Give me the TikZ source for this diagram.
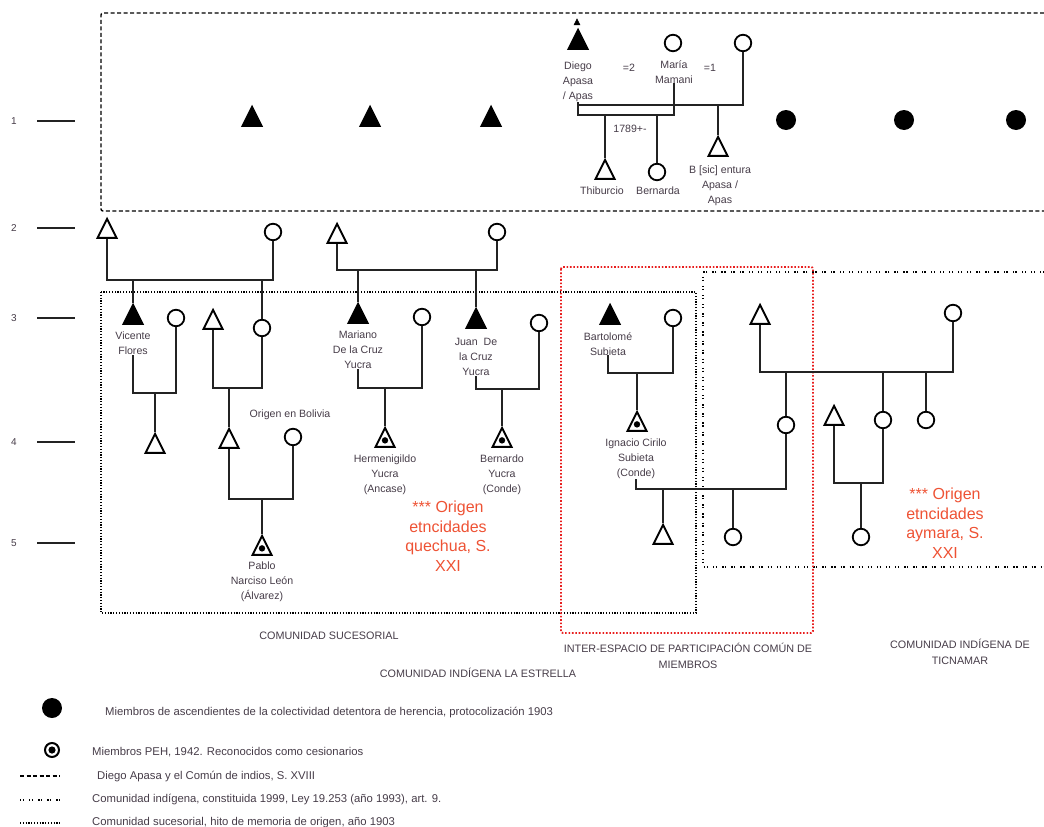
\documentclass[tikz,border=0pt]{standalone}
\usepackage{fontspec}
\setmainfont{Liberation Sans}
\usetikzlibrary{shapes.geometric,positioning}

\definecolor{kingray}{RGB}{35,35,35}
\definecolor{namegray}{RGB}{70,60,72}
\definecolor{origred}{RGB}{238,82,52}
\definecolor{spacered}{RGB}{232,30,30}

\begin{document}
\begin{tikzpicture}[x=1pt, y=-1pt,
    male/.style = {isosceles triangle, isosceles triangle apex angle=58, isosceles triangle stretches,
                   shape border rotate=90, draw=black, line width=1.9pt, inner sep=0pt,
                   minimum height=19pt, minimum width=19pt},
    malefill/.style = {male, fill=black},
    cesion/.style = {male, path picture={\fill[black] ([yshift=-3pt]path picture bounding box.center) circle (3.2pt);}},
    female/.style = {circle, draw=black, line width=1.8pt, inner sep=0pt, minimum size=16.5pt},
    femfill/.style = {circle, fill=black, inner sep=0pt, minimum size=20pt},
    kin/.style = {draw=kingray, line width=1.8pt},
    pname/.style = {font=\fontsize{10.6}{15}\selectfont, text=namegray, align=center, inner sep=0pt},
    origen/.style = {font=\fontsize{16}{19.5}\selectfont, text=origred, align=center, inner sep=0pt},
    zone/.style = {font=\fontsize{10.8}{16}\selectfont, text=namegray, align=center, inner sep=0pt},
    keytext/.style = {font=\fontsize{11.3}{13}\selectfont, text=namegray, anchor=west, inner sep=0pt},
    diegoline/.style = {line width=1.4pt, dash pattern=on 4pt off 2.5pt},
    ticline/.style = {line width=1.3pt, dash pattern=on 1.3pt off 1.5pt on 1.3pt off 5pt},
    sucline/.style = {line width=1.3pt, dash pattern=on 1.2pt off 1.6pt},
    interline/.style = {draw=spacered, line width=1.9pt, dash pattern=on 1.6pt off 1.8pt, rounded corners=2pt}]

\useasboundingbox (0,0) rectangle (1044,827);

% generations
\foreach \g/\y in {1/121, 2/228, 3/318, 4/442, 5/543} {
    \node[font=\fontsize{10}{12}\selectfont, text=namegray] (gen\g) at (14,\y) {\g};
    \draw[line width=2pt, kingray] (37,\y) -- (75,\y);
}

% boxes
\draw[diegoline, rounded corners=2pt] (1044,13) -- (101,13) -- (101,211) -- (1044,211);
\draw[sucline] (101,292) rectangle (696,613);
\draw[ticline] (1044,272) -- (703,272) -- (703,567) -- (1044,567);
\draw[interline] (561,267) rectangle (813,633);

% generation 1
\node[malefill] (anc1) at (252,120) {};
\node[malefill] (anc2) at (370,120) {};
\node[malefill] (anc3) at (491,120) {};
\node[femfill] (anc4) at (786,120) {};
\node[femfill] (anc5) at (904,120) {};
\node[femfill] (anc6) at (1016,120) {};

\node[malefill, minimum height=6pt, minimum width=6pt, line width=0.5pt] (diegotop) at (577,23) {};
\node[malefill] (diego) at (578,43) {};
\node[pname, anchor=north] (diegolbl) at (578,62) {Diego\\Apasa\\/ Apas};
\node[female] (maria) at (673,43) {};
\node[pname, anchor=north] (marialbl) at (674,60) {María\\Mamani};
\node[female] (wife1) at (743,43) {};
\node[pname] (eq2) at (629,68) {=2};
\node[pname] (eq1) at (710,68) {=1};
\node[pname] (year) at (630,129) {1789+-};

\node[male] (thiburcio) at (605,173) {};
\node[female] (bernarda) at (657,172) {};
\node[male] (bventura) at (718,150) {};
\node[pname, anchor=north] (thiblbl) at (602,187) {Thiburcio};
\node[pname, anchor=north] (bernlbl) at (658,187) {Bernarda};
\node[pname, anchor=north] (bvenlbl) at (720,166) {B [sic] entura\\Apasa /\\Apas};

\coordinate (bar1a) at (620,115);
\coordinate (bar1b) at (660,105);
\draw[kin] (diegolbl.south) |- (bar1a) -| (marialbl.south);
\draw[kin] (diegolbl.south |- bar1a) |- (bar1b) -| (wife1.south);
\draw[kin] (thiburcio.apex) -- (thiburcio.apex |- bar1a);
\draw[kin] (bernarda.north) -- (bernarda.north |- bar1a);
\draw[kin] (bventura.apex) -- (bventura.apex |- bar1b);

% generation 2
\node[male] (flores) at (107,232) {};
\node[female] (floresw) at (273,232) {};
\node[male] (cruz) at (337,237) {};
\node[female] (cruzw) at (497,232) {};
\coordinate (bar2a) at (190,280);
\coordinate (bar2b) at (420,270);
\draw[kin] (flores.lower side) |- (bar2a) -| (floresw.south);
\draw[kin] (cruz.lower side) |- (bar2b) -| (cruzw.south);

% generation 3, comunidad sucesorial
\node[malefill] (vicente) at (133,318) {};
\node[pname, anchor=north] (vicentelbl) at (133,332) {Vicente\\Flores};
\node[female] (vicentew) at (176,318) {};
\node[male] (husb3) at (213,323) {};
\node[female] (daugh3) at (262,328) {};
\node[malefill] (mariano) at (358,317) {};
\node[pname, anchor=north] (marianolbl) at (358,331) {Mariano\\De la Cruz\\Yucra};
\node[female] (marianow) at (422,317) {};
\node[malefill] (juan) at (476,322) {};
\node[pname, anchor=north] (juanlbl) at (476,338) {Juan~~De\\la Cruz\\Yucra};
\node[female] (juanw) at (539,323) {};

\draw[kin] (vicente.apex) -- (vicente.apex |- bar2a);
\draw[kin] (daugh3.north) -- (daugh3.north |- bar2a);
\draw[kin] (mariano.apex) -- (mariano.apex |- bar2b);
\draw[kin] (juan.apex) -- (juan.apex |- bar2b);

\coordinate (bar3a) at (154,393);
\coordinate (bar3b) at (229,388);
\coordinate (bar3c) at (385,388);
\coordinate (bar3d) at (502,389);
\draw[kin] (vicentelbl.south) |- (bar3a) -| (vicentew.south);
\draw[kin] (husb3.lower side) |- (bar3b) -| (daugh3.south);
\draw[kin] (marianolbl.south) |- (bar3c) -| (marianow.south);
\draw[kin] (juanlbl.south) |- (bar3d) -| (juanw.south);

% generation 4
\node[male] (son4a) at (155,447) {};
\node[male] (son4b) at (229,442) {};
\node[pname] (bolivia) at (290,415) {Origen en Bolivia};
\node[female] (bolw) at (293,437) {};
\node[cesion] (hermenegildo) at (385,441) {};
\node[pname, anchor=north] (hermlbl) at (385,455) {Hermenigildo\\Yucra\\(Ancase)};
\node[cesion] (bernardo) at (502,441) {};
\node[pname, anchor=north] (bernardolbl) at (502,455) {Bernardo\\Yucra\\(Conde)};
\draw[kin] (son4a.apex) -- (son4a.apex |- bar3a);
\draw[kin] (son4b.apex) -- (son4b.apex |- bar3b);
\draw[kin] (hermenegildo.apex) -- (hermenegildo.apex |- bar3c);
\draw[kin] (bernardo.apex) -- (bernardo.apex |- bar3d);

\coordinate (bar4a) at (262,499);
\draw[kin] (son4b.lower side) |- (bar4a) -| (bolw.south);

% generation 5
\node[cesion] (pablo) at (262,549) {};
\node[pname, anchor=north] (pablolbl) at (262,562) {Pablo\\Narciso León\\(Álvarez)};
\draw[kin] (pablo.apex) -- (pablo.apex |- bar4a);

\node[origen] (quechua) at (448,536) {*** Origen\\etncidades\\quechua, S.\\XXI};

% inter-espacio and Ticnamar
\node[malefill] (bartolome) at (610,318) {};
\node[pname, anchor=north] (bartlbl) at (608,332) {Bartolomé\\Subieta};
\node[female] (bartw) at (673,318) {};
\coordinate (bar3e) at (637,373);
\draw[kin] (bartlbl.south) |- (bar3e) -| (bartw.south);

\node[male] (tic3) at (760,318) {};
\node[female] (tic3w) at (953,313) {};
\coordinate (bar3f) at (850,372);
\draw[kin] (tic3.lower side) |- (bar3f) -| (tic3w.south);

\node[cesion] (ignacio) at (637,425) {};
\node[pname, anchor=north] (ignaciolbl) at (636,439) {Ignacio Cirilo\\Subieta\\(Conde)};
\draw[kin] (ignacio.apex) -- (ignacio.apex |- bar3e);
\node[female] (ignaciow) at (786,425) {};
\node[female] (tic4b) at (883,420) {};
\node[female] (tic4c) at (926,420) {};
\node[male] (tic4h) at (834,419) {};
\draw[kin] (ignaciow.north) -- (ignaciow.north |- bar3f);
\draw[kin] (tic4b.north) -- (tic4b.north |- bar3f);
\draw[kin] (tic4c.north) -- (tic4c.north |- bar3f);

\coordinate (bar4b) at (700,489);
\coordinate (bar4c) at (861,483);
\draw[kin] (ignaciolbl.south) |- (bar4b) -| (ignaciow.south);
\draw[kin] (tic4h.lower side) |- (bar4c) -| (tic4b.south);

\node[male] (son5a) at (663,538) {};
\node[female] (daugh5a) at (733,537) {};
\node[female] (daugh5b) at (861,537) {};
\draw[kin] (son5a.apex) -- (son5a.apex |- bar4b);
\draw[kin] (daugh5a.north) -- (daugh5a.north |- bar4b);
\draw[kin] (daugh5b.north) -- (daugh5b.north |- bar4c);

\node[origen] (aymara) at (945,523) {*** Origen\\etncidades\\aymara, S.\\XXI};

% zone names
\node[zone] (sucesorial) at (329,636) {COMUNIDAD SUCESORIAL};
\node[zone] (estrella) at (478,673) {COMUNIDAD INDÍGENA LA ESTRELLA};
\node[zone] (interesp) at (688,656) {INTER-ESPACIO DE PARTICIPACIÓN COMÚN DE\\MIEMBROS};
\node[zone] (ticnamar) at (960,652) {COMUNIDAD INDÍGENA DE\\TICNAMAR};

% legend
\node[femfill] (keyanc) at (52,708) {};
\node[keytext] (keyanctxt) at (105,713) {Miembros de ascendientes de la colectividad detentora de herencia, protocolización 1903};
\node[female, minimum size=14pt, line width=2pt, path picture={\fill[black] (path picture bounding box.center) circle (3.6pt);}] (keyces) at (52,750) {};
\node[keytext] (keycestxt) at (92,752) {Miembros PEH, 1942. Reconocidos como cesionarios};
\coordinate (keyd1) at (20,776);
\coordinate (keyd2) at (60,776);
\draw[diegoline] (keyd1) -- (keyd2);
\node[keytext] (keydtxt) at (97,777) {Diego Apasa y el Común de indios, S. XVIII};
\coordinate (keyt1) at (20,800);
\coordinate (keyt2) at (60,800);
\draw[ticline] (keyt1) -- (keyt2);
\node[keytext] (keyttxt) at (92,800) {Comunidad indígena, constituida 1999, Ley 19.253 (año 1993), art. 9.};
\coordinate (keys1) at (20,823);
\coordinate (keys2) at (60,823);
\draw[sucline] (keys1) -- (keys2);
\node[keytext] (keystxt) at (92,823) {Comunidad sucesorial, hito de memoria de origen, año 1903};

\end{tikzpicture}
\end{document}
